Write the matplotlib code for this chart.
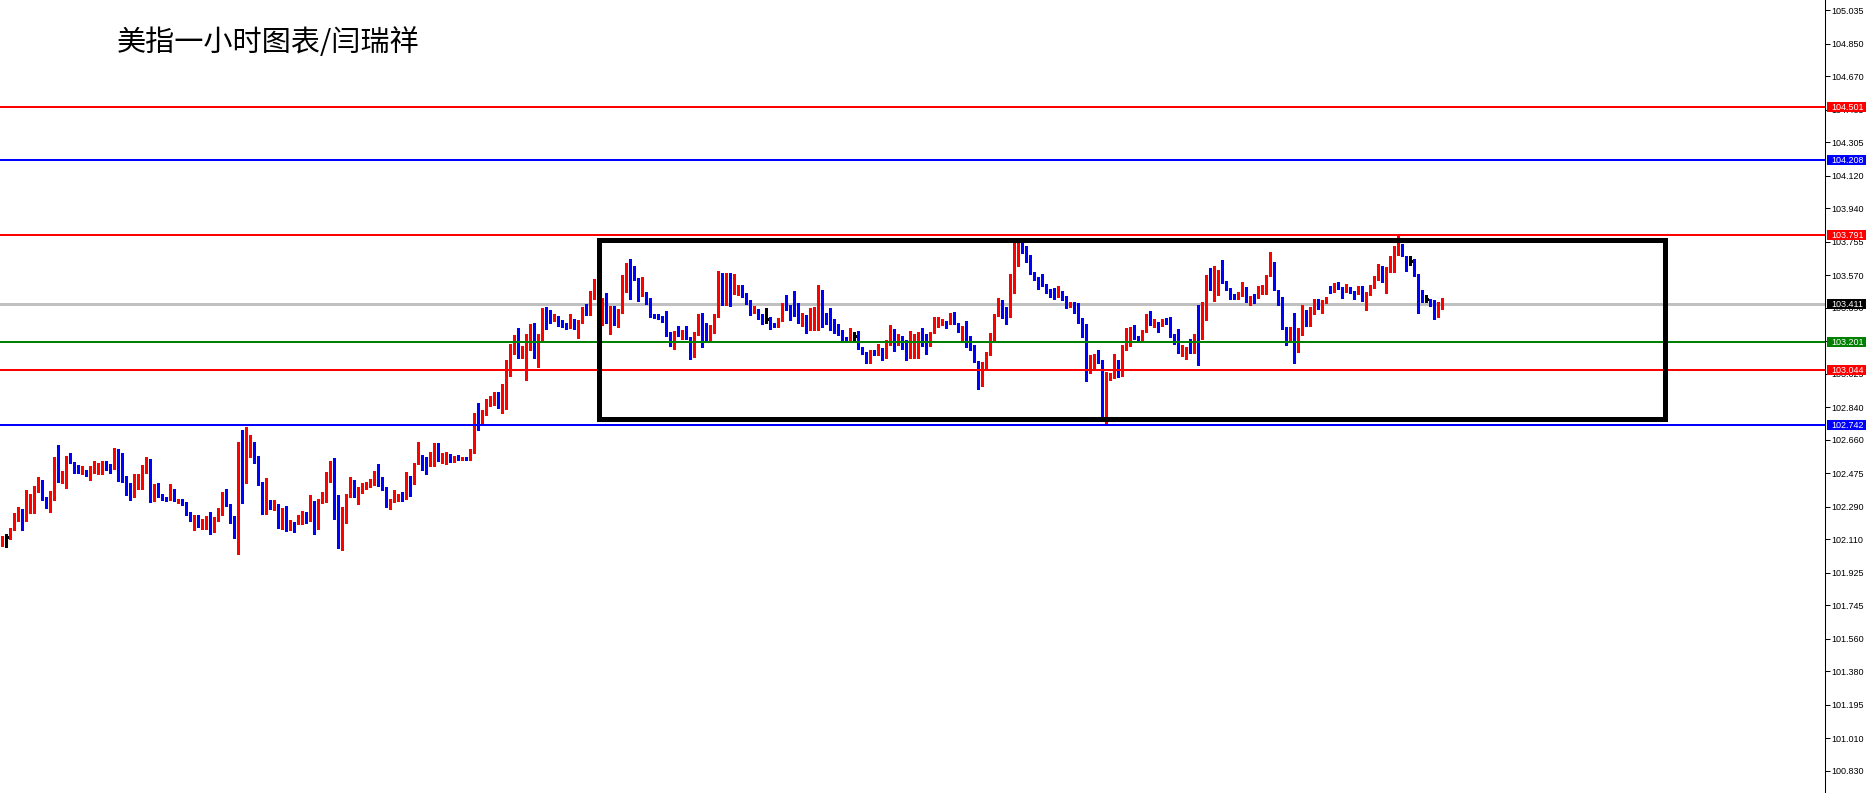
import numpy as np
import matplotlib
matplotlib.use("Agg")
import matplotlib.pyplot as plt
from matplotlib.patches import Rectangle
from matplotlib import transforms

plt.rcParams['font.family'] = ['Noto Sans CJK SC', 'DejaVu Sans']

title = "美指一小时图表/闫瑞祥"

# hourly candles, oldest first
opens = [
    102.105, 102.121, 102.116, 102.164, 102.235, 102.278, 102.213, 102.272, 102.291, 102.379,
    102.427, 102.341, 102.289, 102.337, 102.560, 102.435, 102.457, 102.549, 102.536, 102.518,
    102.477, 102.494, 102.466, 102.483, 102.486, 102.499, 102.534, 102.512, 102.501, 102.606,
    102.567, 102.446, 102.405, 102.385, 102.418, 102.462, 102.485, 102.510, 102.346, 102.413,
    102.354, 102.341, 102.328, 102.385, 102.313, 102.324, 102.313, 102.250, 102.213, 102.239,
    102.191, 102.222, 102.226, 102.158, 102.213, 102.246, 102.344, 102.302, 102.209, 102.178,
    102.635, 102.494, 102.592, 102.645, 102.566, 102.422, 102.254, 102.318, 102.276, 102.303,
    102.180, 102.255, 102.174, 102.204, 102.196, 102.224, 102.250, 102.228, 102.311, 102.208,
    102.313, 102.333, 102.443, 102.538, 102.322, 102.147, 102.257, 102.355, 102.427, 102.351,
    102.373, 102.399, 102.405, 102.410, 102.477, 102.416, 102.399, 102.294, 102.322, 102.344,
    102.361, 102.348, 102.460, 102.416, 102.526, 102.576, 102.549, 102.519, 102.526, 102.604,
    102.549, 102.565, 102.582, 102.537, 102.565, 102.549, 102.560, 102.549, 102.604, 102.803,
    102.755, 102.814, 102.851, 102.862, 102.903, 102.864, 102.886, 103.019, 103.163, 103.224,
    103.118, 103.146, 103.218, 103.257, 103.129, 103.207, 103.389, 103.351, 103.318, 103.340,
    103.301, 103.295, 103.281, 103.295, 103.284, 103.306, 103.401, 103.362, 103.439, 103.472,
    103.406, 103.439, 103.329, 103.367, 103.318, 103.362, 103.485, 103.629, 103.618, 103.552,
    103.458, 103.478, 103.419, 103.351, 103.345, 103.340, 103.318, 103.251, 103.225, 103.262,
    103.235, 103.246, 103.229, 103.142, 103.242, 103.340, 103.301, 103.212, 103.253, 103.341,
    103.579, 103.478, 103.555, 103.478, 103.467, 103.507, 103.465, 103.434, 103.367, 103.384,
    103.345, 103.327, 103.334, 103.301, 103.290, 103.323, 103.406, 103.401, 103.378, 103.373,
    103.308, 103.330, 103.292, 103.341, 103.362, 103.380, 103.340, 103.334, 103.290, 103.284,
    103.257, 103.227, 103.201, 103.235, 103.240, 103.168, 103.141, 103.085, 103.153, 103.129,
    103.166, 103.153, 103.201, 103.257, 103.187, 103.235, 103.196, 103.153, 103.153, 103.190,
    103.240, 103.196, 103.183, 103.251, 103.290, 103.301, 103.318, 103.301, 103.351, 103.306,
    103.257, 103.279, 103.207, 103.163, 103.096, 102.958, 103.058, 103.129, 103.212, 103.345,
    103.395, 103.395, 103.340, 103.539, 103.699, 103.738, 103.721, 103.677, 103.583, 103.550,
    103.528, 103.517, 103.478, 103.478, 103.450, 103.483, 103.439, 103.400, 103.411, 103.395,
    103.314, 103.295, 103.037, 103.076, 103.124, 103.096, 102.803, 103.008, 103.015, 103.058,
    103.015, 103.157, 103.201, 103.279, 103.223, 103.207, 103.257, 103.336, 103.295, 103.306,
    103.290, 103.323, 103.312, 103.240, 103.190, 103.142, 103.150, 103.163, 103.148, 103.229,
    103.220, 103.329, 103.555, 103.535, 103.550, 103.600, 103.539, 103.495, 103.456, 103.445,
    103.461, 103.495, 103.445, 103.456, 103.445, 103.467, 103.467, 103.566, 103.644, 103.489,
    103.450, 103.284, 103.212, 103.279, 103.201, 103.240, 103.340, 103.329, 103.356, 103.434,
    103.395, 103.417, 103.489, 103.478, 103.522, 103.506, 103.483, 103.495, 103.478, 103.467,
    103.506, 103.434, 103.467, 103.500, 103.544, 103.589, 103.578, 103.594, 103.611, 103.707,
    103.743, 103.677, 103.650, 103.644, 103.578, 103.445, 103.439, 103.439, 103.434, 103.340,
    103.395,
]
highs = [
    102.127, 102.140, 102.171, 102.254, 102.289, 102.280, 102.383, 102.361, 102.405, 102.453,
    102.438, 102.343, 102.377, 102.566, 102.632, 102.488, 102.573, 102.588, 102.540, 102.520,
    102.516, 102.496, 102.516, 102.542, 102.531, 102.542, 102.542, 102.529, 102.617, 102.610,
    102.590, 102.459, 102.422, 102.470, 102.474, 102.521, 102.566, 102.555, 102.418, 102.420,
    102.359, 102.346, 102.416, 102.391, 102.335, 102.331, 102.315, 102.261, 102.244, 102.243,
    102.224, 102.237, 102.260, 102.232, 102.281, 102.374, 102.387, 102.304, 102.239, 102.646,
    102.713, 102.733, 102.686, 102.651, 102.571, 102.426, 102.450, 102.328, 102.328, 102.307,
    102.283, 102.294, 102.215, 102.207, 102.244, 102.267, 102.261, 102.355, 102.322, 102.333,
    102.372, 102.480, 102.543, 102.560, 102.355, 102.289, 102.363, 102.455, 102.438, 102.399,
    102.421, 102.427, 102.443, 102.488, 102.526, 102.455, 102.401, 102.333, 102.383, 102.363,
    102.372, 102.482, 102.462, 102.534, 102.648, 102.578, 102.565, 102.593, 102.643, 102.643,
    102.587, 102.593, 102.584, 102.573, 102.576, 102.565, 102.565, 102.611, 102.811, 102.864,
    102.825, 102.886, 102.903, 102.925, 102.925, 102.969, 103.102, 103.190, 103.240, 103.279,
    103.179, 103.246, 103.301, 103.306, 103.246, 103.389, 103.395, 103.378, 103.356, 103.345,
    103.323, 103.306, 103.356, 103.329, 103.323, 103.397, 103.412, 103.483, 103.550, 103.489,
    103.445, 103.472, 103.401, 103.401, 103.384, 103.572, 103.638, 103.660, 103.622, 103.555,
    103.561, 103.480, 103.445, 103.356, 103.356, 103.345, 103.373, 103.257, 103.262, 103.290,
    103.268, 103.290, 103.231, 103.257, 103.356, 103.362, 103.306, 103.295, 103.356, 103.594,
    103.583, 103.583, 103.583, 103.577, 103.517, 103.517, 103.471, 103.436, 103.401, 103.386,
    103.356, 103.389, 103.338, 103.305, 103.334, 103.417, 103.461, 103.406, 103.483, 103.417,
    103.360, 103.351, 103.391, 103.395, 103.517, 103.489, 103.360, 103.389, 103.329, 103.301,
    103.268, 103.231, 103.279, 103.257, 103.262, 103.172, 103.144, 103.155, 103.157, 103.190,
    103.168, 103.212, 103.297, 103.273, 103.246, 103.237, 103.212, 103.264, 103.246, 103.257,
    103.279, 103.246, 103.259, 103.340, 103.340, 103.329, 103.320, 103.362, 103.367, 103.308,
    103.290, 103.318, 103.235, 103.183, 103.098, 103.091, 103.146, 103.251, 103.356, 103.445,
    103.434, 103.397, 103.578, 103.760, 103.760, 103.777, 103.732, 103.683, 103.590, 103.561,
    103.578, 103.522, 103.495, 103.500, 103.511, 103.485, 103.456, 103.423, 103.423, 103.417,
    103.334, 103.301, 103.129, 103.135, 103.157, 103.102, 103.035, 103.028, 103.135, 103.102,
    103.185, 103.279, 103.284, 103.295, 103.235, 103.268, 103.356, 103.373, 103.329, 103.312,
    103.329, 103.334, 103.340, 103.246, 103.273, 103.185, 103.174, 103.218, 103.246, 103.406,
    103.423, 103.572, 103.611, 103.622, 103.602, 103.655, 103.541, 103.500, 103.467, 103.478,
    103.533, 103.506, 103.458, 103.467, 103.511, 103.517, 103.574, 103.699, 103.646, 103.491,
    103.452, 103.286, 103.284, 103.362, 103.279, 103.406, 103.378, 103.395, 103.439, 103.439,
    103.434, 103.450, 103.511, 103.526, 103.533, 103.508, 103.522, 103.506, 103.483, 103.511,
    103.511, 103.478, 103.517, 103.566, 103.633, 103.622, 103.616, 103.677, 103.732, 103.793,
    103.745, 103.679, 103.677, 103.660, 103.580, 103.489, 103.461, 103.441, 103.436, 103.423,
    103.445,
]
lows = [
    102.075, 102.070, 102.114, 102.162, 102.213, 102.164, 102.211, 102.258, 102.258, 102.372,
    102.330, 102.285, 102.263, 102.330, 102.427, 102.420, 102.396, 102.531, 102.479, 102.477,
    102.474, 102.459, 102.438, 102.479, 102.470, 102.474, 102.496, 102.479, 102.499, 102.433,
    102.427, 102.355, 102.330, 102.346, 102.391, 102.391, 102.479, 102.318, 102.322, 102.346,
    102.328, 102.324, 102.326, 102.320, 102.311, 102.302, 102.243, 102.209, 102.161, 102.180,
    102.169, 102.169, 102.140, 102.149, 102.209, 102.244, 102.295, 102.198, 102.119, 102.031,
    102.313, 102.424, 102.564, 102.533, 102.413, 102.248, 102.250, 102.278, 102.270, 102.174,
    102.167, 102.156, 102.163, 102.150, 102.194, 102.196, 102.202, 102.211, 102.141, 102.167,
    102.311, 102.316, 102.425, 102.222, 102.062, 102.051, 102.200, 102.344, 102.344, 102.305,
    102.366, 102.388, 102.399, 102.408, 102.406, 102.383, 102.287, 102.278, 102.316, 102.322,
    102.322, 102.333, 102.350, 102.414, 102.524, 102.493, 102.471, 102.515, 102.515, 102.543,
    102.532, 102.526, 102.537, 102.535, 102.547, 102.547, 102.547, 102.547, 102.587, 102.715,
    102.753, 102.798, 102.847, 102.853, 102.836, 102.809, 102.831, 103.013, 103.135, 103.113,
    103.113, 102.991, 103.157, 103.113, 103.063, 103.205, 103.273, 103.306, 103.316, 103.290,
    103.284, 103.273, 103.279, 103.273, 103.224, 103.304, 103.351, 103.351, 103.437, 103.399,
    103.295, 103.306, 103.246, 103.295, 103.284, 103.360, 103.478, 103.439, 103.544, 103.428,
    103.456, 103.412, 103.340, 103.334, 103.329, 103.312, 103.235, 103.179, 103.163, 103.235,
    103.218, 103.218, 103.109, 103.120, 103.240, 103.174, 103.207, 103.207, 103.251, 103.339,
    103.406, 103.406, 103.401, 103.467, 103.461, 103.452, 103.412, 103.351, 103.360, 103.327,
    103.303, 103.306, 103.273, 103.286, 103.286, 103.319, 103.378, 103.323, 103.345, 103.305,
    103.292, 103.251, 103.268, 103.268, 103.268, 103.286, 103.299, 103.268, 103.251, 103.240,
    103.212, 103.201, 103.199, 103.212, 103.163, 103.135, 103.083, 103.083, 103.127, 103.127,
    103.102, 103.113, 103.187, 103.152, 103.185, 103.161, 103.102, 103.113, 103.113, 103.113,
    103.179, 103.135, 103.179, 103.249, 103.284, 103.295, 103.279, 103.299, 103.301, 103.255,
    103.207, 103.174, 103.155, 103.089, 102.941, 102.956, 103.056, 103.127, 103.210, 103.343,
    103.334, 103.301, 103.338, 103.472, 103.622, 103.694, 103.644, 103.576, 103.542, 103.495,
    103.511, 103.470, 103.450, 103.439, 103.448, 103.432, 103.389, 103.395, 103.362, 103.306,
    103.229, 102.987, 103.032, 103.054, 103.087, 102.781, 102.742, 102.991, 103.004, 103.010,
    103.013, 103.155, 103.179, 103.216, 103.201, 103.201, 103.255, 103.295, 103.284, 103.257,
    103.288, 103.301, 103.231, 103.190, 103.140, 103.124, 103.105, 103.140, 103.140, 103.076,
    103.218, 103.323, 103.489, 103.428, 103.461, 103.528, 103.489, 103.439, 103.439, 103.439,
    103.456, 103.423, 103.406, 103.417, 103.443, 103.465, 103.465, 103.564, 103.487, 103.404,
    103.273, 103.185, 103.207, 103.085, 103.146, 103.238, 103.290, 103.290, 103.354, 103.384,
    103.362, 103.415, 103.471, 103.476, 103.495, 103.445, 103.478, 103.470, 103.439, 103.465,
    103.428, 103.378, 103.461, 103.498, 103.542, 103.533, 103.474, 103.589, 103.589, 103.683,
    103.675, 103.594, 103.627, 103.566, 103.362, 103.423, 103.423, 103.400, 103.329, 103.338,
    103.384,
]
closes = [
    102.119, 102.121, 102.167, 102.239, 102.278, 102.213, 102.278, 102.295, 102.383, 102.427,
    102.333, 102.289, 102.344, 102.562, 102.433, 102.461, 102.549, 102.534, 102.510, 102.479,
    102.494, 102.468, 102.488, 102.496, 102.501, 102.533, 102.505, 102.499, 102.606, 102.564,
    102.438, 102.402, 102.389, 102.422, 102.468, 102.496, 102.505, 102.346, 102.416, 102.352,
    102.333, 102.328, 102.383, 102.324, 102.322, 102.309, 102.254, 102.213, 102.239, 102.189,
    102.222, 102.230, 102.165, 102.217, 102.250, 102.348, 102.300, 102.204, 102.180, 102.627,
    102.494, 102.592, 102.645, 102.562, 102.422, 102.252, 102.315, 102.284, 102.298, 102.182,
    102.255, 102.180, 102.204, 102.196, 102.228, 102.250, 102.228, 102.311, 102.208, 102.322,
    102.337, 102.449, 102.538, 102.316, 102.147, 102.261, 102.361, 102.432, 102.346, 102.377,
    102.410, 102.410, 102.416, 102.477, 102.410, 102.392, 102.294, 102.327, 102.344, 102.361,
    102.351, 102.460, 102.416, 102.532, 102.576, 102.539, 102.521, 102.532, 102.604, 102.549,
    102.571, 102.576, 102.543, 102.571, 102.549, 102.554, 102.549, 102.609, 102.805, 102.753,
    102.820, 102.864, 102.869, 102.903, 102.869, 102.892, 103.024, 103.168, 103.224, 103.118,
    103.152, 103.224, 103.257, 103.129, 103.212, 103.384, 103.345, 103.318, 103.340, 103.295,
    103.290, 103.284, 103.295, 103.290, 103.312, 103.395, 103.362, 103.445, 103.472, 103.401,
    103.439, 103.329, 103.373, 103.318, 103.362, 103.489, 103.629, 103.613, 103.546, 103.458,
    103.478, 103.419, 103.347, 103.341, 103.336, 103.314, 103.242, 103.225, 103.259, 103.242,
    103.246, 103.225, 103.142, 103.246, 103.340, 103.292, 103.214, 103.257, 103.345, 103.579,
    103.478, 103.555, 103.478, 103.511, 103.507, 103.461, 103.419, 103.369, 103.384, 103.332,
    103.329, 103.327, 103.295, 103.290, 103.330, 103.406, 103.391, 103.375, 103.367, 103.308,
    103.330, 103.292, 103.345, 103.367, 103.384, 103.336, 103.330, 103.286, 103.281, 103.253,
    103.218, 103.205, 103.240, 103.235, 103.164, 103.139, 103.085, 103.153, 103.129, 103.163,
    103.153, 103.207, 103.257, 103.187, 103.240, 103.192, 103.179, 103.157, 103.196, 103.240,
    103.190, 103.179, 103.257, 103.295, 103.301, 103.318, 103.301, 103.353, 103.306, 103.257,
    103.273, 103.201, 103.157, 103.091, 102.958, 103.063, 103.135, 103.218, 103.351, 103.395,
    103.389, 103.340, 103.544, 103.705, 103.738, 103.716, 103.699, 103.578, 103.544, 103.511,
    103.517, 103.472, 103.472, 103.456, 103.483, 103.434, 103.400, 103.411, 103.389, 103.308,
    103.290, 103.037, 103.080, 103.131, 103.091, 102.799, 103.019, 103.019, 103.058, 103.015,
    103.163, 103.207, 103.279, 103.218, 103.207, 103.262, 103.341, 103.301, 103.306, 103.295,
    103.323, 103.306, 103.235, 103.201, 103.142, 103.152, 103.163, 103.148, 103.229, 103.218,
    103.334, 103.555, 103.535, 103.555, 103.600, 103.539, 103.495, 103.450, 103.445, 103.467,
    103.495, 103.445, 103.456, 103.445, 103.506, 103.506, 103.572, 103.644, 103.489, 103.450,
    103.279, 103.212, 103.279, 103.201, 103.240, 103.340, 103.329, 103.356, 103.434, 103.395,
    103.428, 103.450, 103.478, 103.522, 103.500, 103.489, 103.495, 103.472, 103.467, 103.500,
    103.434, 103.472, 103.506, 103.550, 103.589, 103.581, 103.605, 103.616, 103.710, 103.743,
    103.677, 103.646, 103.650, 103.572, 103.439, 103.434, 103.439, 103.434, 103.340, 103.395,
    103.411,
]

# horizontal levels drawn on the chart
level_prices = [104.501, 104.208, 103.791, 103.411, 103.201, 103.044, 102.742]
level_line_colors = ["#ff0000", "#0000ff", "#ff0000", "#c0c0c0", "#008000", "#ff0000", "#0000ff"]
level_box_colors = ["#ff0000", "#0000ff", "#ff0000", "#000000", "#008000", "#ff0000", "#0000ff"]
level_labels = ["104.501", "104.208", "103.791", "103.411", "103.201", "103.044", "102.742"]

# consolidation rectangle (bar index / price)
range_start, range_end = 149.2, 415.8
range_low, range_high = 102.776, 103.767

y_ticks = [105.035, 104.850, 104.670, 104.485, 104.305, 104.120, 103.940, 103.755,
           103.570, 103.390, 103.205, 103.025, 102.840, 102.660, 102.475, 102.290,
           102.110, 101.925, 101.745, 101.560, 101.380, 101.195, 101.010, 100.830]

W, H = 1866, 793
AX_R = 1825  # pixel where the price scale starts
fig = plt.figure(figsize=(W / 100, H / 100), dpi=100)
fig.patch.set_facecolor("white")
ax = fig.add_axes([0, 0, AX_R / W, 1])
ax.set_facecolor("white")

o = np.array(opens)
h = np.array(highs)
l = np.array(lows)
c = np.array(closes)
x = np.arange(len(o))
cols = np.where(c > o, "#ff0000", np.where(c < o, "#0000ff", "#000000"))
flat = c == o

ax.vlines(x, l, h, colors=cols, linewidth=0.75, antialiased=False, zorder=3)
body = np.maximum(np.abs(c - o), 0.006)
ax.bar(x[~flat], body[~flat], bottom=np.minimum(o, c)[~flat], width=0.8,
       color=cols[~flat], linewidth=0, antialiased=False, zorder=3)
ax.hlines(o[flat], x[flat] - 0.4, x[flat] + 0.4, colors="#000000",
          linewidth=0.75, antialiased=False, zorder=3)

for p, lc in zip(level_prices, level_line_colors):
    if lc == "#c0c0c0":
        ax.axhline(p, color=lc, linewidth=0.75, antialiased=False, zorder=2)
    else:
        ax.axhline(p, color=lc, linewidth=1.44, zorder=4)

ax.add_patch(Rectangle((range_start, range_low), range_end - range_start,
                       range_high - range_low, fill=False, edgecolor="black",
                       linewidth=2.2, antialiased=False, zorder=5))

ax.set_xlim(-0.575, (AX_R - 2.3) / 4)
ax.set_ylim(100.707, 105.093)
ax.set_xticks([])
ax.yaxis.tick_right()
ax.set_yticks(y_ticks)
ax.set_yticklabels([f"{t:.3f}" for t in y_ticks])
ax.tick_params(axis="y", direction="out", length=3.6, width=0.75, pad=1.0,
               labelsize=6.5, colors="black")
for lab in ax.get_yticklabels():
    lab.set_family(["Liberation Sans", "DejaVu Sans"])
for side in ["top", "bottom", "left"]:
    ax.spines[side].set_visible(False)
ax.spines["right"].set_linewidth(0.75)

# price tags on the axis strip
trans = transforms.blended_transform_factory(ax.transAxes, ax.transData)
tag_h = 10 * (105.093 - 100.707) / H
for p, bc, lab in zip(level_prices, level_box_colors, level_labels):
    ax.add_patch(Rectangle((1826.5 / AX_R, p - tag_h / 2), 40 / AX_R, tag_h,
                           transform=trans, facecolor=bc, edgecolor="none",
                           clip_on=False, zorder=6))
    ax.text(1831.5 / AX_R, p, lab, transform=trans, color="white", fontsize=6.5,
            family=["Liberation Sans", "DejaVu Sans"], ha="left", va="center",
            clip_on=False, zorder=7)

fig.text(117 / W, 1 - 43 / H, title, fontsize=21, color="black",
         ha="left", va="center")

fig.savefig("out.png", dpi=100)
